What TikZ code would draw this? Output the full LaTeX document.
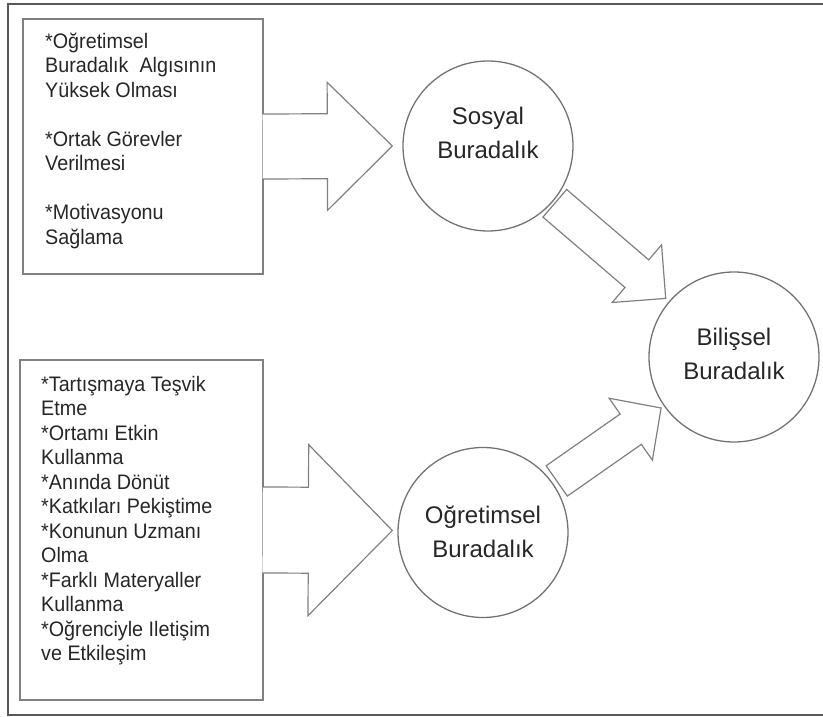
\documentclass[tikz,border=0pt]{standalone}
\usepackage{fontspec}
\setmainfont{Liberation Sans}
\newfontfamily\itemfont[FakeStretch=0.94]{Liberation Sans}
\usetikzlibrary{calc}

% Block arrow from tail #1 to tip #2: shaft half width #3, head half width #4,
% head length #5; #6 closes the tail edge (-- cycle) or leaves it open.
\newcommand\drawblockarrow[6]{%
  \coordinate (ba-h) at ($(#2)!#5!(#1)$);
  \draw[blockarrow]
    ($(#1)!#3!90:(#2)$) -- ($(ba-h)!#3!90:(#2)$) -- ($(ba-h)!#4!90:(#2)$)
    -- (#2)
    -- ($(ba-h)!#4!-90:(#2)$) -- ($(ba-h)!#3!-90:(#2)$) -- ($(#1)!#3!-90:(#2)$) #6;
}

\begin{document}
\begin{tikzpicture}[x=1pt,y=-1pt,
  frameline/.style={draw=black!65, line width=2.2pt},
  itembox/.style={draw=black!50, line width=1.2pt, rectangle, inner sep=0pt},
  presence/.style={draw=black!55, line width=1.3pt, circle, inner sep=0pt, minimum size=170pt},
  itemtext/.style={anchor=north west, inner sep=0pt, align=left,
    font=\itemfont\fontsize{21}{24.5}\selectfont, text=black!85},
  circtext/.style={inner sep=0pt, align=center,
    font=\fontsize{24}{34}\selectfont, text=black!85},
  blockarrow/.style={draw=black!50, line width=1.2pt, fill=white, line join=miter}
]
\useasboundingbox (0,0) rectangle (823,717);

% outer frame
\draw[frameline] (823,4) -- (8,4) -- (8,715) -- (823,715);

% factor boxes
\node[itembox, minimum width=240pt, minimum height=255pt] (sbox) at (143,146.5) {};
\node[itembox, minimum width=243pt, minimum height=340pt] (obox) at (141.5,530) {};

\node[itemtext] (stext) at (45,32.5) {*Oğretimsel\\Buradalık\ \ Algısının\\Yüksek Olması\\[24.5pt]
  *Ortak Görevler\\Verilmesi\\[24.5pt]*Motivasyonu\\Sağlama};
\node[itemtext] (otext) at (41,376) {*Tartışmaya Teşvik\\Etme\\*Ortamı Etkin\\Kullanma\\
  *Anında Dönüt\\*Katkıları Pekiştime\\*Konunun Uzmanı\\Olma\\*Farklı Materyaller\\
  Kullanma\\*Oğrenciyle Iletişim\\ve Etkileşim};

% presence circles
\node[presence] (sosyal) at (488,146) {};
\node[presence] (ogr) at (483,532.5) {};
\node[presence] (bil) at (734,357) {};

\node[circtext] (sosyalT) at (488,133) {Sosyal\\Buradalık};
\node[circtext] (ogrT) at (483,532) {Oğretimsel\\Buradalık};
\node[circtext] (bilT) at (734,353.5) {Bilişsel\\Buradalık};

% arrow ends
\coordinate (a1t) at ($(sbox.east)+(-1,0)$);
\coordinate (a1h) at ($(sosyal.west)+(-10,0)$);
\coordinate (a2t) at ($(obox.east)+(-1,0)$);
\coordinate (a2h) at ($(ogr.west)+(-5,-2)$);
\coordinate (a3t) at ($(sosyal)!88pt!(bil)$);
\coordinate (a3h) at ($(bil)!90pt!(sosyal)$);
\coordinate (a4t) at ($(ogr)!90pt!(bil)$);
\coordinate (a4h) at ($(bil)!89pt!(ogr)$);

% block arrows
\drawblockarrow{a1t}{a1h}{32.5pt}{64pt}{65pt}{}
\drawblockarrow{a2t}{a2h}{43pt}{85.5pt}{84pt}{}
\drawblockarrow{a3t}{a3h}{18.2pt}{38pt}{38pt}{-- cycle}
\drawblockarrow{a4t}{a4h}{18.5pt}{37.8pt}{37pt}{-- cycle}
\end{tikzpicture}
\end{document}
